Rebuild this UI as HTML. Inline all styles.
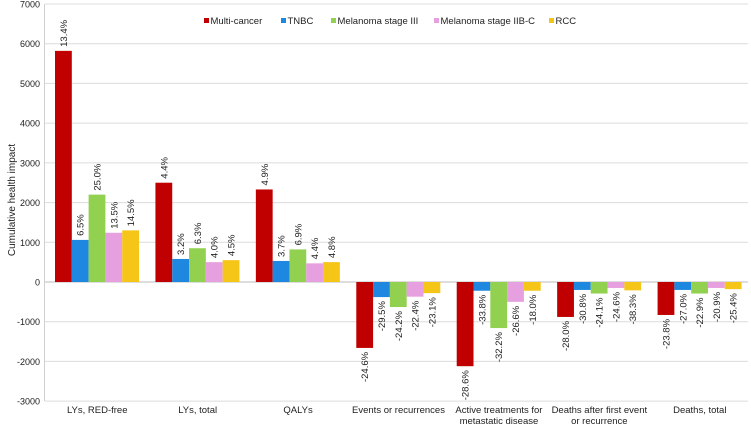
<!DOCTYPE html>
<html><head><meta charset="utf-8"><style>
html,body{margin:0;padding:0;background:#fff;}
svg text{font-family:"Liberation Sans",Arial,sans-serif;fill:#222;}
</style></head><body>
<svg id="chart" width="751" height="426" viewBox="0 0 751 426" xmlns="http://www.w3.org/2000/svg">
<g id="grid"></g><g id="bars"></g><g id="labels"></g><g id="xlabels"></g>
<line x1="44.5" x2="44.5" y1="4" y2="401" stroke="#d0d0d0" stroke-width="1"/>
<text transform="translate(15,200) rotate(-90)" text-anchor="middle" font-size="10">Cumulative health impact</text>
<g id="legend"></g>
</svg>
<script>
const categories=[["LYs, RED-free"],["LYs, total"],["QALYs"],["Events or recurrences"],["Active treatments for","metastatic disease"],["Deaths after first event","or recurrence"],["Deaths, total"]];
const seriesNames=["Multi-cancer","TNBC","Melanoma stage III","Melanoma stage IIB-C","RCC"];
const multiCancer=[5820,2500,2330,-1660,-2120,-880,-830];
const tnbc=[1060,580,530,-380,-220,-200,-200];
const melIII=[2200,850,820,-630,-1160,-290,-290];
const melIIB=[1240,500,470,-370,-500,-150,-150];
const rcc=[1300,550,500,-280,-220,-210,-180];
const multiPct=["13.4%","4.4%","4.9%","-24.6%","-28.6%","-28.0%","-23.8%"];
const tnbcPct=["6.5%","3.2%","3.7%","-29.5%","-33.8%","-30.8%","-27.0%"];
const melIIIPct=["25.0%","6.3%","6.9%","-24.2%","-32.2%","-24.1%","-22.9%"];
const melIIBPct=["13.5%","4.0%","4.4%","-22.4%","-26.6%","-24.6%","-20.9%"];
const rccPct=["14.5%","4.5%","4.8%","-23.1%","-18.0%","-38.3%","-25.4%"];
const yTicks=[7000,6000,5000,4000,3000,2000,1000,0,-1000,-2000,-3000];
const colors=["#C00000","#1E88E0","#92D050","#E6A0E0","#F5C518"];
const series=[multiCancer,tnbc,melIII,melIIB,rcc];
const pcts=[multiPct,tnbcPct,melIIIPct,melIIBPct,rccPct];
const NS="http://www.w3.org/2000/svg";
const x0=45,x1=748,groupW=(x1-x0)/categories.length,barW=16.8,barOff=10;
function y(v){return 282-v*(278/7000);}
function mk(tag,attrs,parent){const e=document.createElementNS(NS,tag);for(const k in attrs)e.setAttribute(k,attrs[k]);parent.appendChild(e);return e;}
const grid=document.getElementById('grid');
yTicks.forEach(t=>{
  const l=mk('line',{x1:x0,x2:x1,y1:y(t),y2:y(t),stroke:t===0?'#bbb':'#dcdcdc','stroke-width':1},grid);
  
  
  const tx=mk('text',{x:40,y:y(t)+3.5,'text-anchor':'end','font-size':9},grid);
  tx.textContent=t;
  
  
});
const bars=document.getElementById('bars'),labels=document.getElementById('labels'),xl=document.getElementById('xlabels');
categories.forEach((c,i)=>{
  series.forEach((s,j)=>{
    const v=s[i],bx=x0+i*groupW+barOff+j*barW;
    const r=mk('rect',{x:bx,y:Math.min(y(v),y(0)),width:barW,height:Math.abs(y(v)-y(0)),fill:colors[j]},bars);
    
    
    const cx=bx+barW/2+3.5;
    let t;
    if(v>=0){t=mk('text',{transform:`translate(${cx},${y(v)-4}) rotate(-90)`,'text-anchor':'start','font-size':9.5},labels);}
    else{t=mk('text',{transform:`translate(${cx},${y(v)+4}) rotate(-90)`,'text-anchor':'end','font-size':9.5},labels);}
    t.textContent=pcts[j][i];
    
    
  });
  c.forEach((line,k)=>{
    const t=mk('text',{x:x0+i*groupW+groupW/2+2,y:413+k*11,'text-anchor':'middle','font-size':9.5},xl);
    t.textContent=line;
    
    
  });
});
const lg=document.getElementById('legend');
const lx=[204,281,331,434,549];
seriesNames.forEach((n,j)=>{
  const g=mk('g',{},lg);
  
  
  mk('rect',{x:lx[j],y:18,width:5,height:5,fill:colors[j]},g);
  const t=mk('text',{x:lx[j]+6.5,y:24,'font-size':9.5},g);
  t.textContent=n;
});
</script>
</body></html>
